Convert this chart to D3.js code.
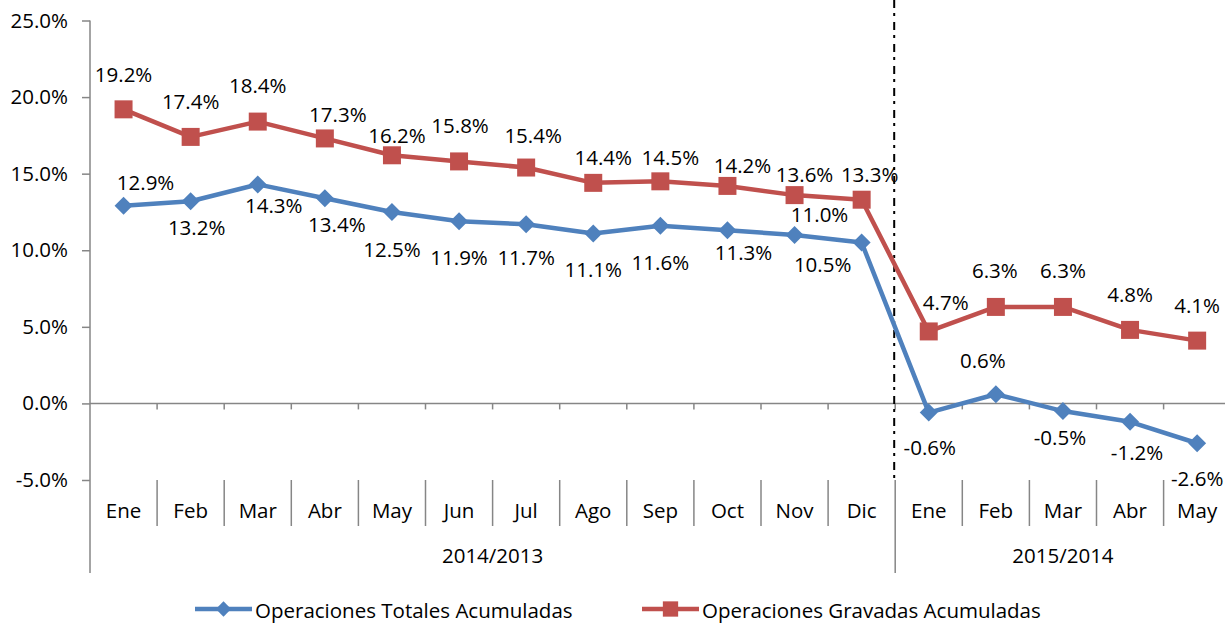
<!DOCTYPE html>
<html>
<head>
<meta charset="utf-8">
<script src="https://cdn.jsdelivr.net/npm/d3@7"></script>
<style>
  body { margin: 0; background: #fff; }
  svg { display: block; }
  text { font-family: "Open Sans", sans-serif; fill: #000; }
</style>
</head>
<body>
<svg id="chart" width="1225" height="625"></svg>
<script>
// categories
var months = ["Ene", "Feb", "Mar", "Abr", "May", "Jun", "Jul", "Ago", "Sep", "Oct", "Nov", "Dic",
              "Ene", "Feb", "Mar", "Abr", "May"];
var groupLabels = ["2014/2013", "2015/2014"];
var groupSizes = [12, 5];

// series values (%)
var totales = [12.9, 13.2, 14.3, 13.4, 12.5, 11.9, 11.7, 11.1, 11.6, 11.3, 11.0, 10.5,
               -0.6, 0.6, -0.5, -1.2, -2.6];
var gravadas = [19.2, 17.4, 18.4, 17.3, 16.2, 15.8, 15.4, 14.4, 14.5, 14.2, 13.6, 13.3,
                4.7, 6.3, 6.3, 4.8, 4.1];

var yTicks = [-5, 0, 5, 10, 15, 20, 25];

// where each data label sits relative to its point [dx, dy]
var totalesLabelPos = [[22,-16],[6,34],[16,29],[12,34],[0,45],[0,44],[0,41],[0,44],[0,44],
                       [16,30],[25,-13],[-39,29],[1,42],[-13,-26],[-3,34],[7,38],[0,43]];
var gravadasLabelPos = [[0,-27],[0,-28],[0,-29],[13,-16],[5,-12],[1,-28],[7,-25],[10,-18],
                        [10,-16],[15,-13],[10,-13],[8,-18],[17,-21],[-1,-29],[0,-29],[0,-28],[0,-28]];

var blue = "#4F81BD", red = "#C0504D", axisGrey = "#868686";
var fontSize = "20.5px";

var svg = d3.select("#chart");

var x = d3.scaleBand()
    .domain(d3.range(months.length))
    .range([90, 1230.7]);

var y = d3.scaleLinear()
    .domain([-5, 25])
    .range([480, 20.5]);

var cx = function(i) { return x(i) + x.bandwidth() / 2; };

// y axis
var yAxis = d3.axisLeft(y)
    .tickValues(yTicks)
    .tickSize(8)
    .tickPadding(14)
    .tickFormat(function(d) { return d.toFixed(1) + "%"; });

var gy = svg.append("g")
    .attr("transform", "translate(90,0)")
    .call(yAxis);
gy.select(".domain").remove();
gy.selectAll(".tick line").attr("stroke", axisGrey).attr("stroke-width", 1.5);
gy.selectAll(".tick text")
    .attr("font-family", "Open Sans")
    .attr("font-size", fontSize)
    .attr("fill", "#000");

svg.append("line")
    .attr("x1", 90).attr("x2", 90)
    .attr("y1", y(25)).attr("y2", 573)
    .attr("stroke", axisGrey).attr("stroke-width", 1.5);

// horizontal axis at 0%
svg.append("line")
    .attr("x1", 90).attr("x2", 1225)
    .attr("y1", y(0)).attr("y2", y(0))
    .attr("stroke", axisGrey).attr("stroke-width", 1.5);

var boundaries = d3.range(1, months.length);

svg.selectAll("line.xtick")
   .data(boundaries)
   .enter()
   .append("line")
   .attr("class", "xtick")
   .attr("x1", function(d) { return x(d); })
   .attr("x2", function(d) { return x(d); })
   .attr("y1", y(0))
   .attr("y2", y(0) + 6)
   .attr("stroke", axisGrey).attr("stroke-width", 1.5);

// category separators below the plot
var groupEnds = d3.cumsum(groupSizes);

svg.selectAll("line.sep")
   .data(boundaries)
   .enter()
   .append("line")
   .attr("class", "sep")
   .attr("x1", function(d) { return x(d); })
   .attr("x2", function(d) { return x(d); })
   .attr("y1", y(-5))
   .attr("y2", function(d) { return groupEnds.indexOf(d) >= 0 ? 573 : 526; })
   .attr("stroke", axisGrey).attr("stroke-width", 1.5);

svg.selectAll("text.month")
   .data(months)
   .enter()
   .append("text")
   .attr("class", "month")
   .text(function(d) { return d; })
   .attr("text-anchor", "middle")
   .attr("x", function(d, i) { return cx(i); })
   .attr("y", 518)
   .attr("font-size", fontSize);

svg.selectAll("text.group")
   .data(groupLabels)
   .enter()
   .append("text")
   .attr("class", "group")
   .text(function(d) { return d; })
   .attr("text-anchor", "middle")
   .attr("x", function(d, i) {
       var start = i === 0 ? 0 : groupEnds[i - 1];
       var endX = Math.min(x(groupEnds[i] - 1) + x.bandwidth(), 1230.7);
       return (x(start) + endX) / 2;
   })
   .attr("y", 563)
   .attr("font-size", fontSize);

// dash-dot divider between the two periods
svg.append("line")
    .attr("x1", x(groupEnds[0]) - 1).attr("x2", x(groupEnds[0]) - 1)
    .attr("y1", 0).attr("y2", y(-5))
    .attr("stroke", "#000").attr("stroke-width", 2)
    .attr("stroke-dasharray", "8,5,3,6");

// lines
var line = d3.line()
    .x(function(d, i) { return cx(i); })
    .y(function(d) { return y(d); });

svg.append("path")
    .datum(totales)
    .attr("d", line)
    .attr("fill", "none")
    .attr("stroke", blue)
    .attr("stroke-width", 4.5)
    .attr("stroke-linejoin", "round");

svg.append("path")
    .datum(gravadas)
    .attr("d", line)
    .attr("fill", "none")
    .attr("stroke", red)
    .attr("stroke-width", 4.5)
    .attr("stroke-linejoin", "round");

var diamond = "M0,-9L9,0L0,9L-9,0Z";
var square = "M-9,-9H9V9H-9Z";

svg.selectAll("path.dmark")
   .data(totales)
   .enter()
   .append("path")
   .attr("class", "dmark")
   .attr("d", diamond)
   .attr("transform", function(d, i) { return "translate(" + cx(i) + "," + y(d) + ")"; })
   .attr("fill", blue);

svg.selectAll("path.smark")
   .data(gravadas)
   .enter()
   .append("path")
   .attr("class", "smark")
   .attr("d", square)
   .attr("transform", function(d, i) { return "translate(" + cx(i) + "," + y(d) + ")"; })
   .attr("fill", red);

// data labels
svg.selectAll("text.tlabel")
   .data(totales)
   .enter()
   .append("text")
   .attr("class", "tlabel")
   .text(function(d) { return d.toFixed(1) + "%"; })
   .attr("text-anchor", "middle")
   .attr("x", function(d, i) { return cx(i) + totalesLabelPos[i][0]; })
   .attr("y", function(d, i) { return y(d) + totalesLabelPos[i][1]; })
   .attr("font-size", fontSize);

svg.selectAll("text.glabel")
   .data(gravadas)
   .enter()
   .append("text")
   .attr("class", "glabel")
   .text(function(d) { return d.toFixed(1) + "%"; })
   .attr("text-anchor", "middle")
   .attr("x", function(d, i) { return cx(i) + gravadasLabelPos[i][0]; })
   .attr("y", function(d, i) { return y(d) + gravadasLabelPos[i][1]; })
   .attr("font-size", fontSize);

// legend
var legend = [
    { name: "Operaciones Totales Acumuladas", color: blue, mark: diamond, x: 195 },
    { name: "Operaciones Gravadas Acumuladas", color: red, mark: square, x: 642 }
];

var lg = svg.selectAll("g.legend")
   .data(legend)
   .enter()
   .append("g")
   .attr("class", "legend")
   .attr("transform", function(d) { return "translate(" + d.x + ",609)"; });

lg.append("line")
  .attr("x1", 0).attr("x2", 57)
  .attr("y1", 0).attr("y2", 0)
  .attr("stroke", function(d) { return d.color; })
  .attr("stroke-width", 4.5);

lg.append("path")
  .attr("d", function(d) { return d.mark; })
  .attr("transform", "translate(28.5,0) scale(0.85)")
  .attr("fill", function(d) { return d.color; });

lg.append("text")
  .text(function(d) { return d.name; })
  .attr("x", 60)
  .attr("y", 9)
  .attr("font-size", fontSize);
</script>
</body>
</html>
